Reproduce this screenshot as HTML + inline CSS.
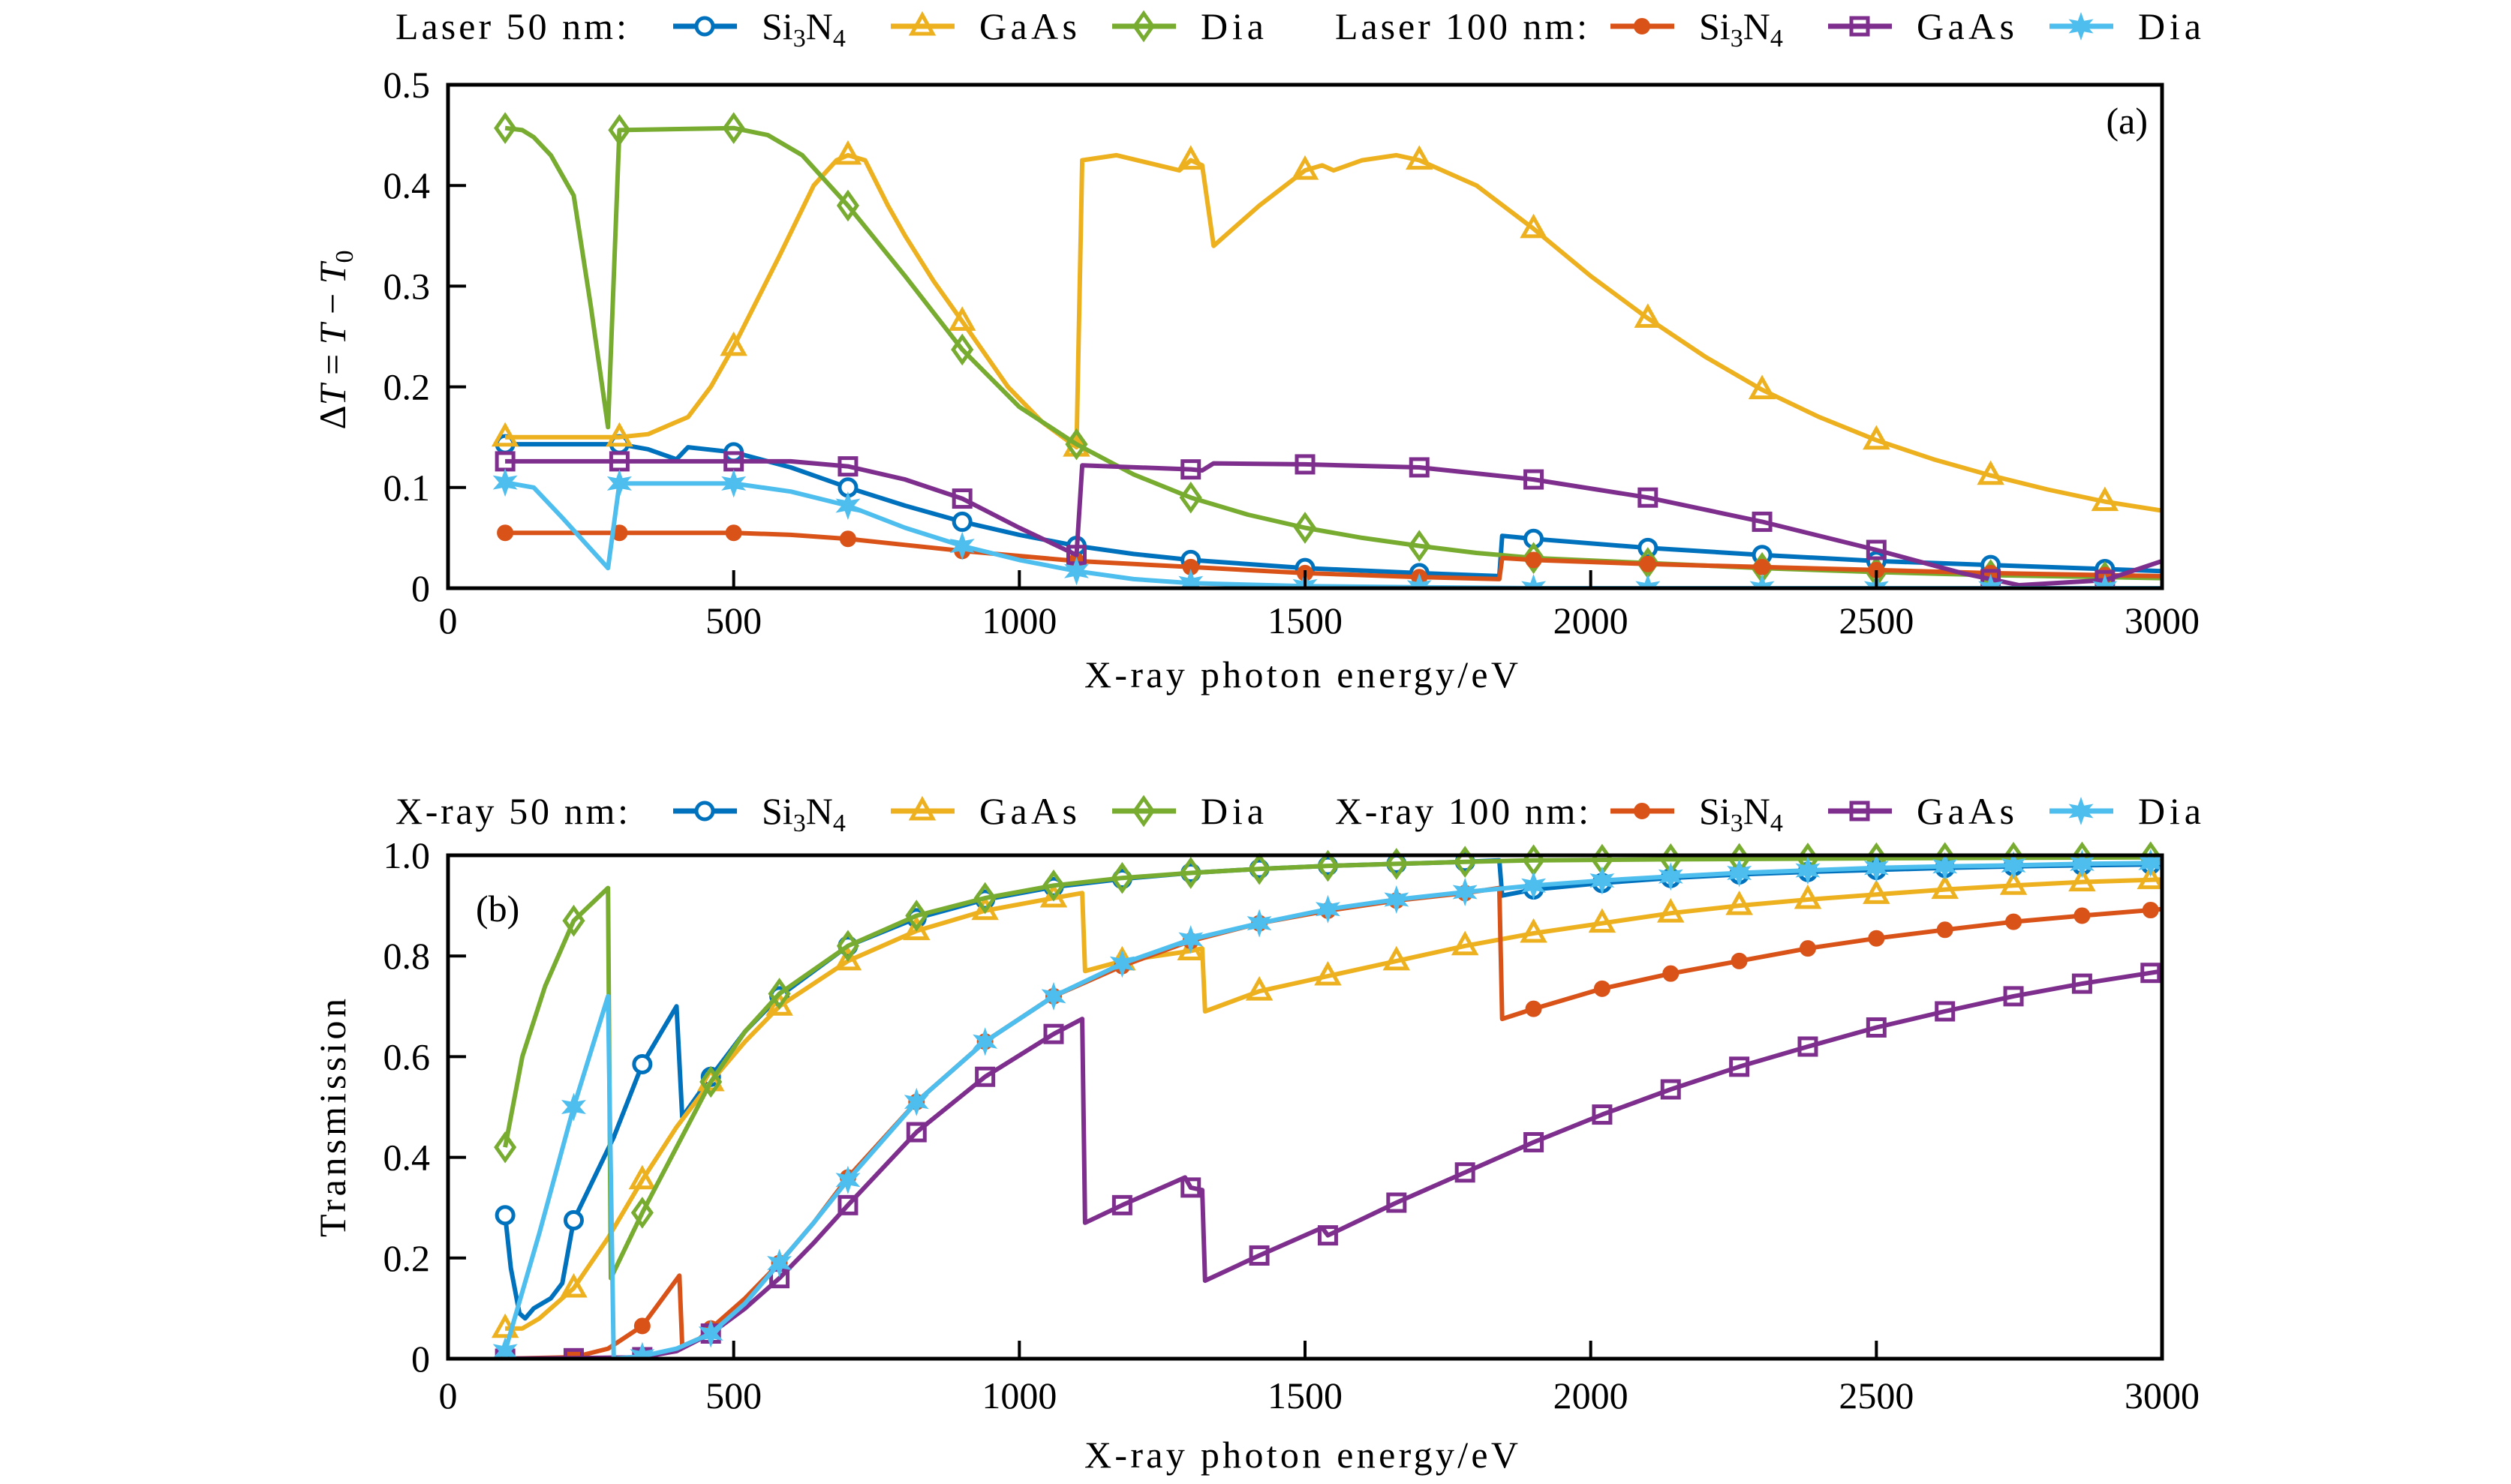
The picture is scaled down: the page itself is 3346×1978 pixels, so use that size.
<!DOCTYPE html>
<html><head><meta charset="utf-8"><style>
html,body{margin:0;padding:0;background:#fff;}
svg{display:block;font-family:"Liberation Serif",serif;}
</style></head><body>
<svg id="c" width="3346" height="1978" viewBox="0 0 3346 1978" xmlns="http://www.w3.org/2000/svg"></svg>
<script>
// ---------- data ----------
const xTicks = [0,500,1000,1500,2000,2500,3000];
const yTicksA = [0,0.1,0.2,0.3,0.4,0.5];
const yTickLabelsA = ["0","0.1","0.2","0.3","0.4","0.5"];
const yTicksB = [0,0.2,0.4,0.6,0.8,1.0];
const yTickLabelsB = ["0","0.2","0.4","0.6","0.8","1.0"];
const markersA = [100,300,500,700,900,1100,1300,1500,1700,1900,2100,2300,2500,2700,2900];
const markersB = [100,220,340,460,580,700,820,940,1060,1180,1300,1420,1540,1660,1780,1900,2020,2140,2260,2380,2500,2620,2740,2860,2980];

// Panel (a)
const laser50Si3N4 = [[100,0.143],[300,0.143],[350,0.138],[400,0.128],[420,0.14],[500,0.135],[600,0.12],[700,0.10],[800,0.082],[900,0.066],[1000,0.053],[1100,0.042],[1200,0.034],[1300,0.028],[1500,0.02],[1700,0.015],[1840,0.012],[1845,0.052],[1900,0.049],[2100,0.04],[2300,0.033],[2500,0.027],[2700,0.023],[2900,0.019],[3000,0.017]];
const laser50GaAs = [[100,0.15],[300,0.15],[350,0.153],[420,0.17],[460,0.2],[500,0.24],[580,0.33],[640,0.40],[680,0.425],[700,0.43],[730,0.425],[770,0.38],[800,0.35],[850,0.305],[900,0.265],[980,0.20],[1040,0.165],[1100,0.14],[1110,0.425],[1170,0.43],[1280,0.415],[1300,0.425],[1320,0.42],[1340,0.34],[1420,0.38],[1500,0.415],[1530,0.42],[1550,0.415],[1600,0.425],[1660,0.43],[1700,0.425],[1800,0.40],[1900,0.357],[2000,0.31],[2100,0.268],[2200,0.23],[2300,0.197],[2400,0.17],[2500,0.147],[2600,0.128],[2700,0.112],[2800,0.098],[2900,0.086],[3000,0.077]];
const laser50Dia = [[100,0.457],[130,0.455],[150,0.448],[180,0.43],[220,0.39],[250,0.28],[280,0.16],[300,0.455],[500,0.457],[560,0.45],[620,0.43],[700,0.38],[800,0.31],[900,0.237],[1000,0.18],[1100,0.143],[1200,0.113],[1300,0.09],[1400,0.073],[1500,0.06],[1600,0.05],[1700,0.042],[1800,0.035],[1900,0.030],[2100,0.025],[2300,0.02],[2500,0.016],[2700,0.013],[2900,0.011],[3000,0.01]];
const laser100Si3N4 = [[100,0.055],[500,0.055],[600,0.053],[700,0.049],[800,0.043],[900,0.037],[1100,0.027],[1300,0.021],[1500,0.015],[1700,0.011],[1840,0.009],[1845,0.03],[1900,0.028],[2100,0.024],[2300,0.021],[2500,0.018],[2700,0.015],[2900,0.013],[3000,0.012]];
const laser100GaAs = [[100,0.126],[600,0.126],[700,0.121],[800,0.108],[900,0.089],[1000,0.06],[1100,0.033],[1110,0.122],[1300,0.118],[1320,0.117],[1340,0.124],[1500,0.123],[1700,0.12],[1900,0.108],[2100,0.09],[2300,0.066],[2500,0.038],[2650,0.015],[2750,0.003],[2900,0.008],[3000,0.027]];
const laser100Dia = [[100,0.105],[150,0.1],[200,0.07],[280,0.02],[300,0.104],[500,0.104],[600,0.096],[700,0.082],[800,0.06],[900,0.042],[1000,0.028],[1100,0.017],[1200,0.009],[1300,0.005],[1500,0.002],[1700,0.001],[1900,0],[3000,0]];

// Panel (b)
const xray50Si3N4 = [[100,0.285],[110,0.18],[125,0.09],[135,0.08],[150,0.1],[180,0.12],[200,0.15],[220,0.275],[290,0.44],[340,0.585],[400,0.70],[410,0.48],[460,0.56],[520,0.65],[580,0.72],[700,0.82],[820,0.875],[940,0.912],[1060,0.937],[1180,0.953],[1300,0.965],[1420,0.973],[1540,0.979],[1660,0.983],[1780,0.987],[1840,0.99],[1845,0.92],[1900,0.932],[2020,0.945],[2140,0.955],[2260,0.962],[2380,0.967],[2500,0.971],[2620,0.975],[2740,0.978],[2860,0.98],[3000,0.982]];
const xray50GaAs = [[100,0.06],[130,0.06],[160,0.08],[220,0.14],[280,0.24],[340,0.355],[400,0.46],[460,0.55],[520,0.63],[580,0.70],[700,0.79],[820,0.85],[940,0.89],[1060,0.915],[1110,0.925],[1115,0.77],[1180,0.79],[1300,0.81],[1320,0.815],[1325,0.69],[1420,0.73],[1540,0.76],[1660,0.79],[1780,0.82],[1900,0.845],[2020,0.865],[2140,0.885],[2260,0.9],[2380,0.912],[2500,0.922],[2620,0.932],[2740,0.94],[2860,0.947],[3000,0.952]];
const xray50Dia = [[100,0.42],[130,0.6],[170,0.74],[220,0.87],[280,0.935],[285,0.16],[340,0.29],[400,0.42],[460,0.55],[520,0.65],[580,0.725],[700,0.82],[820,0.88],[940,0.915],[1060,0.94],[1180,0.955],[1300,0.965],[1420,0.973],[1540,0.979],[1660,0.983],[1780,0.987],[1900,0.99],[2140,0.992],[2500,0.994],[3000,0.996]];
const xray100Si3N4 = [[100,0],[220,0.003],[280,0.02],[340,0.065],[405,0.165],[410,0.025],[440,0.04],[460,0.06],[520,0.12],[580,0.19],[640,0.27],[700,0.36],[820,0.51],[940,0.63],[1060,0.72],[1180,0.78],[1300,0.83],[1420,0.865],[1540,0.89],[1660,0.91],[1780,0.925],[1840,0.935],[1845,0.675],[1900,0.695],[2020,0.735],[2140,0.765],[2260,0.79],[2380,0.815],[2500,0.835],[2620,0.852],[2740,0.868],[2860,0.88],[3000,0.893]];
const xray100GaAs = [[100,0],[220,0.001],[340,0.003],[400,0.015],[460,0.05],[520,0.1],[580,0.16],[640,0.23],[700,0.305],[820,0.45],[940,0.56],[1060,0.645],[1110,0.675],[1115,0.27],[1180,0.305],[1290,0.36],[1300,0.34],[1320,0.335],[1325,0.155],[1420,0.205],[1530,0.26],[1540,0.245],[1660,0.31],[1780,0.37],[1900,0.43],[2020,0.485],[2140,0.535],[2260,0.58],[2380,0.62],[2500,0.658],[2620,0.69],[2740,0.72],[2860,0.745],[3000,0.77]];
const xray100Dia = [[100,0.015],[160,0.25],[220,0.5],[280,0.72],[290,0],[340,0.005],[400,0.02],[460,0.05],[520,0.11],[580,0.19],[640,0.27],[700,0.355],[820,0.51],[940,0.63],[1060,0.72],[1180,0.785],[1300,0.833],[1420,0.865],[1540,0.893],[1660,0.912],[1780,0.927],[1900,0.94],[2020,0.95],[2140,0.958],[2260,0.965],[2380,0.97],[2500,0.975],[2620,0.978],[2740,0.98],[2860,0.983],[3000,0.985]];

// ---------- drawing ----------
const NS = "http://www.w3.org/2000/svg";
const svg = document.getElementById('c');
const C = {blue:"#0072BD",orange:"#D95319",yellow:"#EDB120",purple:"#7E2F8E",green:"#77AC30",cyan:"#4DBEEE"};
const X0 = 597, X1 = 2881;
const FS = 50;
function sx(v){ return X0 + (v/3000)*(X1-X0); }
function mk(tag, attrs, parent){
  const e = document.createElementNS(NS, tag);
  for (const k in attrs) e.setAttribute(k, attrs[k]);
  (parent||svg).appendChild(e);
  return e;
}
function interp(data, x){
  for (let i=0;i<data.length-1;i++){
    const a=data[i], b=data[i+1];
    if (x>=a[0] && x<=b[0]){
      if (b[0]===a[0]) return a[1];
      return a[1] + (b[1]-a[1])*(x-a[0])/(b[0]-a[0]);
    }
  }
  return data[data.length-1][1];
}
function marker(g, type, cx, cy, color){
  let e;
  if (type==='circle') e = mk('circle',{cx:cx,cy:cy,r:11,fill:'#fff',stroke:color,'stroke-width':5},g);
  else if (type==='dot') e = mk('circle',{cx:cx,cy:cy,r:10,fill:color,stroke:color,'stroke-width':2},g);
  else if (type==='tri') e = mk('polygon',{points:`${cx},${cy-15} ${cx+14},${cy+10} ${cx-14},${cy+10}`,fill:'none',stroke:color,'stroke-width':5},g);
  else if (type==='diamond') e = mk('polygon',{points:`${cx},${cy-17} ${cx+12},${cy} ${cx},${cy+17} ${cx-12},${cy}`,fill:'none',stroke:color,'stroke-width':5},g);
  else if (type==='square') e = mk('rect',{x:cx-11,y:cy-11,width:22,height:22,fill:'none',stroke:color,'stroke-width':5},g);
  else if (type==='star'){
    let p=[];
    for(let i=0;i<12;i++){const r=i%2?7:16;const a=-Math.PI/2+i*Math.PI/6;p.push((cx+r*Math.cos(a)).toFixed(1)+','+(cy+r*Math.sin(a)).toFixed(1));}
    e = mk('polygon',{points:p.join(' '),fill:color,stroke:color,'stroke-width':2},g);
  }
  
  
  return e;
}
function panel(name, Y0, Y1, ymax, yTicks, yLabels, series, markerXs, tickOff, titleOff){
  const sy = v => Y1 - (v/ymax)*(Y1-Y0);
  const g = mk('g',{});
  
  
  const clip = mk('clipPath',{id:name+'-clip'},g);
  mk('rect',{x:X0,y:Y0-20,width:X1-X0,height:Y1-Y0+20},clip);
  series.forEach(s=>{
    const sg = mk('g',{'clip-path':`url(#${name}-clip)`},g);
    
    
    const pl = mk('polyline',{points:s.data.map(p=>sx(p[0]).toFixed(1)+','+sy(p[1]).toFixed(1)).join(' '),fill:'none',stroke:s.color,'stroke-width':6,'stroke-linejoin':'round'},sg);
    
    
    markerXs.forEach(mx=>{ marker(sg, s.marker, sx(mx), sy(interp(s.data,mx)), s.color); });
  });
  const box = mk('rect',{x:X0,y:Y0,width:X1-X0,height:Y1-Y0,fill:'none',stroke:'#000','stroke-width':5},g);
  
  
  xTicks.forEach(v=>{
    const t = mk('line',{x1:sx(v),x2:sx(v),y1:Y1,y2:Y1-24,stroke:'#000','stroke-width':4},g);
    
    
    const l = mk('text',{x:sx(v),y:Y1+tickOff,'text-anchor':'middle','font-size':FS},g);
    l.textContent = String(v);
    
    
  });
  yTicks.forEach((v,i)=>{
    const t = mk('line',{x1:X0,x2:X0+24,y1:sy(v),y2:sy(v),stroke:'#000','stroke-width':4},g);
    
    
    const l = mk('text',{x:X0-24,y:sy(v)+17,'text-anchor':'end','font-size':FS},g);
    l.textContent = yLabels[i];
    
    
  });
  const xl = mk('text',{x:1445,y:Y1+titleOff,'font-size':FS,textLength:578,lengthAdjust:'spacing'},g);
  xl.textContent = 'X-ray photon energy/eV';
  
  
  return {g, sy};
}
function legend(y, title1, title2, w1, w2, items){
  const g = mk('g',{});
  
  
  const t1 = mk('text',{x:527,y:y+17,'font-size':FS,textLength:w1,lengthAdjust:'spacing'},g); t1.textContent = title1;
   
  const t2 = mk('text',{x:1779,y:y+17,'font-size':FS,textLength:w2,lengthAdjust:'spacing'},g); t2.textContent = title2;
   
  items.forEach(it=>{
    const eg = mk('g',{},g);
    
    
    mk('line',{x1:it.lx,x2:it.lx+85,y1:y,y2:y,stroke:it.color,'stroke-width':7},eg);
    marker(eg, it.marker, it.lx+42, y, it.color);
    const tx = mk('text',{x:it.lx+118,y:y+17,'font-size':FS},eg);
    if (it.label==='Si3N4'){
      tx.innerHTML = 'Si<tspan font-size="34" dy="10">3</tspan><tspan dy="-10">N</tspan><tspan font-size="34" dy="10">4</tspan>';
    } else {
      tx.textContent = it.label;
      tx.setAttribute('textLength', it.w);
      tx.setAttribute('lengthAdjust','spacing');
    }
  });
}
panel('panel-a', 113, 784, 0.5, yTicksA, yTickLabelsA, [
  {name:'laser50-si3n4',data:laser50Si3N4,color:C.blue,marker:'circle'},
  {name:'laser50-gaas',data:laser50GaAs,color:C.yellow,marker:'tri'},
  {name:'laser50-dia',data:laser50Dia,color:C.green,marker:'diamond'},
  {name:'laser100-si3n4',data:laser100Si3N4,color:C.orange,marker:'dot'},
  {name:'laser100-gaas',data:laser100GaAs,color:C.purple,marker:'square'},
  {name:'laser100-dia',data:laser100Dia,color:C.cyan,marker:'star'}
], markersA, 60, 132);
panel('panel-b', 1140, 1811, 1.0, yTicksB, yTickLabelsB, [
  {name:'xray50-si3n4',data:xray50Si3N4,color:C.blue,marker:'circle'},
  {name:'xray50-gaas',data:xray50GaAs,color:C.yellow,marker:'tri'},
  {name:'xray50-dia',data:xray50Dia,color:C.green,marker:'diamond'},
  {name:'xray100-si3n4',data:xray100Si3N4,color:C.orange,marker:'dot'},
  {name:'xray100-gaas',data:xray100GaAs,color:C.purple,marker:'square'},
  {name:'xray100-dia',data:xray100Dia,color:C.cyan,marker:'star'}
], markersB, 66, 145);

const lbA = mk('text',{x:2862,y:178,'text-anchor':'end','font-size':FS}); lbA.textContent='(a)';
 
const lbB = mk('text',{x:634,y:1228,'font-size':FS}); lbB.textContent='(b)';
 

const yla = mk('text',{x:0,y:0,'text-anchor':'middle','font-size':FS,transform:'translate(460,453) rotate(-90)'});
yla.innerHTML = 'Δ<tspan font-style="italic">T</tspan> = <tspan font-style="italic">T</tspan> − <tspan font-style="italic">T</tspan><tspan font-size="34" dy="10">0</tspan>';
 
const ylb = mk('text',{x:0,y:0,'text-anchor':'middle','font-size':FS,textLength:318,lengthAdjust:'spacing',transform:'translate(460,1490) rotate(-90)'});
ylb.textContent = 'Transmission';
 

const legItems = [
  {lx:897,color:C.blue,marker:'circle',label:'Si3N4'},
  {lx:1187,color:C.yellow,marker:'tri',label:'GaAs',w:130},
  {lx:1482,color:C.green,marker:'diamond',label:'Dia',w:84},
  {lx:2146,color:C.orange,marker:'dot',label:'Si3N4'},
  {lx:2436,color:C.purple,marker:'square',label:'GaAs',w:130},
  {lx:2731,color:C.cyan,marker:'star',label:'Dia',w:84}
];
legend(35,'Laser 50 nm:','Laser 100 nm:',308,336,legItems);
legend(1081,'X-ray 50 nm:','X-ray 100 nm:',310,338,legItems);
</script>
</body></html>
